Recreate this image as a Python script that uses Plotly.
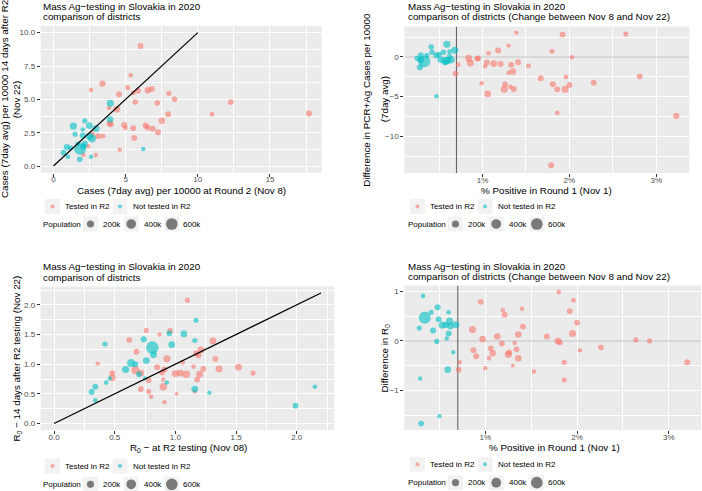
import numpy as np
import plotly.graph_objects as go

W, H = 702, 491
RED = "#F8766D"
CYAN = "#00BFC4"
FONT = "Liberation Sans"
THRESHOLD = 0.7  # % positive threshold line (panels 2 and 4)

# ---------------- Panel 1: cases Nov 8 vs Nov 22 ----------------
p1_t_x = [6.04, 5.35, 3.39, 2.60, 5.14, 4.54, 5.53, 5.85, 6.54, 6.82, 8.00, 8.39, 5.67, 7.19, 4.38, 3.85,
          3.96, 4.91, 4.98, 5.53, 5.60, 6.38, 6.52, 6.87, 7.24, 7.51, 7.95, 10.99, 12.28, 17.70, 4.59, 2.93,
          2.07, 2.67, 2.40, 3.09, 3.43, 3.90]
p1_t_y = [9.00, 6.81, 6.18, 5.70, 5.88, 5.38, 5.48, 5.65, 5.68, 5.78, 5.45, 5.00, 4.80, 4.72, 4.25, 4.35,
          3.14, 3.07, 2.86, 2.84, 2.11, 3.04, 2.89, 2.79, 2.54, 3.39, 3.89, 3.89, 4.80, 3.94, 1.23, 0.83,
          0.85, 2.39, 1.48, 2.24, 2.24, 3.20]
p1_t_pop = [120, 70, 150, 70, 90, 130, 70, 120, 150, 120, 90, 110, 110, 110, 180, 70,
            130, 130, 70, 120, 120, 120, 120, 130, 130, 160, 120, 70, 120, 130, 60, 60,
            60, 120, 70, 120, 80, 140]
p1_n_x = [3.94, 3.92, 2.17, 1.38, 2.49, 2.95, 1.50, 2.03, 2.03, 2.49, 2.67, 2.17, 1.68, 2.05, 1.84, 0.92,
          1.18, 0.69, 0.99, 1.82, 2.60, 6.22]
p1_n_y = [4.70, 3.49, 3.39, 2.99, 3.04, 2.81, 2.39, 2.74, 2.29, 2.24, 2.06, 1.68, 1.66, 1.46, 1.30, 1.43,
          1.36, 1.00, 0.70, 0.50, 0.70, 1.28]
p1_n_pop = [200, 160, 90, 200, 170, 190, 90, 70, 130, 220, 250, 140, 80, 140, 650, 140,
            90, 120, 70, 110, 60, 60]
p1_line = [0, 10]
p1_xticks = [0, 5, 10, 15]
p1_yticks = [0, 2.5, 5, 7.5, 10]

# ---------------- Panel 2: % positive vs difference in cases ----------------
p2_t_x = [1.39, 1.92, 2.65, 1.18, 1.30, 1.07, 1.80, 2.03, 0.84, 0.86, 0.94, 0.95, 1.03, 1.05, 1.13, 1.21,
          1.33, 1.41, 1.35, 1.30, 1.53, 0.72, 0.69, 0.99, 1.06, 1.25, 1.26, 1.32, 1.36, 1.67, 1.81, 1.86,
          1.96, 1.95, 2.00, 2.28, 2.81, 1.86, 3.23, 1.79]
p2_t_y = [3.07, 2.82, 2.90, 0.80, 1.43, 0.46, 0.71, -0.04, -0.17, -0.76, -0.21, -0.17, -1.18, -0.71, -0.84, -0.88,
          -1.00, -0.67, -1.85, -2.00, -1.13, -0.97, -2.10, -3.32, -4.66, -4.08, -3.45, -3.78, -4.03, -2.69, -3.45, -4.08,
          -2.52, -4.08, -3.53, -3.24, -2.44, -7.06, -7.44, -13.66]
p2_t_pop = [60, 120, 90, 130, 60, 70, 90, 60, 180, 180, 120, 120, 60, 130, 180, 120,
            130, 120, 160, 60, 80, 70, 120, 60, 170, 200, 120, 70, 130, 130, 130, 120,
            70, 200, 120, 120, 120, 70, 140, 130]
p2_n_x = [0.59, 0.41, 0.33, 0.25, 0.29, 0.28, 0.42, 0.47, 0.52, 0.55, 0.57, 0.62, 0.60, 0.68, 0.47, 0.29,
          0.64, 0.57, 0.62, 0.36, 0.50]
p2_n_y = [1.60, 1.26, -0.55, -0.17, 0.25, -1.30, 0.59, 0.17, -0.34, 0.59, -0.76, 0.67, -0.46, 0.84, -4.96, -0.40,
          -0.35, -0.50, 0.10, 0.20, 0.30]
p2_n_pop = [200, 110, 650, 110, 110, 140, 110, 130, 160, 110, 70, 70, 220, 200, 70, 180,
            200, 250, 90, 90, 110]
pct_ticks = [1, 2, 3]
pct_labels = ["1%", "2%", "3%"]
p2_yticks = [-10, -5, 0]

# ---------------- Panel 3: R0 Nov 08 vs Nov 22 ----------------
p3_t_x = [1.10, 0.76, 0.956, 0.87, 0.62, 1.31, 0.68, 1.21, 1.17, 1.19, 0.93, 1.33, 1.06, 0.36, 1.15, 0.85,
          0.67, 0.715, 0.91, 0.48, 0.48, 1.20, 1.23, 1.36, 1.52, 1.64, 1.00, 1.04, 1.09, 0.89, 0.78, 1.18,
          0.90, 0.715, 0.78, 0.90, 0.80, 0.91, 1.01, 1.16]
p3_t_y = [2.08, 1.57, 1.56, 1.50, 1.41, 1.39, 1.21, 1.24, 1.18, 1.15, 1.09, 1.09, 1.03, 1.01, 0.96, 0.95,
          0.90, 0.85, 0.91, 0.85, 0.77, 0.83, 0.92, 0.92, 0.95, 0.85, 0.84, 0.85, 0.83, 0.86, 0.73, 0.74,
          0.74, 0.58, 0.54, 0.62, 0.45, 0.36, 0.50, 0.54]
p3_t_pop = [90, 90, 120, 60, 120, 180, 120, 180, 120, 130, 200, 120, 70, 60, 70, 120,
            260, 180, 130, 120, 180, 180, 120, 180, 180, 90, 180, 180, 220, 120, 120, 120,
            60, 120, 90, 220, 60, 60, 40, 60]
p3_n_x = [1.17, 0.42, 0.74, 0.81, 0.82, 1.07, 0.95, 0.97, 1.16, 0.635, 0.67, 0.59, 0.76, 0.70, 0.46, 0.43,
          0.34, 0.31, 0.34, 0.75, 0.93, 1.16, 1.28, 1.99, 2.15]
p3_n_y = [1.74, 1.34, 1.42, 1.28, 1.16, 1.51, 1.52, 1.33, 1.40, 1.02, 1.00, 0.91, 1.06, 0.83, 0.76, 0.69,
          0.62, 0.53, 0.39, 0.76, 0.69, 0.58, 0.52, 0.30, 0.62]
p3_n_pop = [90, 90, 140, 700, 180, 180, 120, 180, 90, 260, 130, 200, 180, 120, 60, 70,
            120, 130, 70, 60, 60, 180, 60, 120, 70]
p3_line = [0, 2.2]
r0_ticks = [0, 0.5, 1, 1.5, 2]

# ---------------- Panel 4: % positive vs difference in R0 ----------------
p4_t_x = [1.80, 1.96, 0.95, 1.19, 1.21, 1.40, 1.92, 2.00, 1.41, 0.86, 0.97, 1.13, 1.18, 1.36, 1.67, 1.79,
          1.81, 1.95, 2.64, 2.79, 3.20, 2.26, 2.03, 1.32, 0.87, 0.90, 0.72, 1.04, 1.06, 1.08, 1.25, 1.26,
          1.34, 1.36, 1.30, 1.00, 0.71, 1.53, 1.86, 1.86]
p4_t_y = [0.99, 0.82, 0.79, 0.62, 0.53, 0.65, 0.60, 0.37, 0.29, 0.23, 0.04, 0.09, -0.05, 0.13, 0.09, 0.00,
          -0.03, 0.15, 0.02, 0.00, -0.43, -0.13, -0.19, -0.04, -0.19, -0.31, -0.43, -0.35, -0.15, -0.25, -0.27, -0.23,
          -0.17, -0.35, -0.50, -0.55, -0.58, -0.62, -0.43, -0.79]
p4_t_pop = [70, 70, 120, 60, 120, 60, 120, 120, 120, 200, 160, 160, 120, 160, 120, 160,
            120, 200, 90, 90, 130, 120, 60, 60, 130, 130, 60, 60, 120, 160, 200, 120,
            120, 160, 40, 60, 120, 70, 90, 90]
p4_n_x = [0.32, 0.48, 0.41, 0.34, 0.49, 0.60, 0.61, 0.53, 0.57, 0.62, 0.68, 0.28, 0.43, 0.60, 0.58, 0.47,
          0.65, 0.59, 0.29, 0.50, 0.30]
p4_n_y = [0.91, 0.68, 0.58, 0.47, 0.44, 0.58, 0.40, 0.32, 0.32, 0.30, 0.33, 0.26, 0.21, 0.15, 0.05, -0.01,
          -0.23, -0.58, -0.76, -1.52, -1.67]
p4_n_pop = [70, 130, 90, 650, 120, 70, 200, 200, 130, 180, 180, 90, 130, 130, 60, 90,
            60, 160, 60, 60, 120]
p4_yticks = [-1, 0, 1]

legend_groups = ["Tested in R2", "Not tested in R2"]
size_breaks = [200, 400, 600]
size_labels = ["200k", "400k", "600k"]

TITLE1 = "Mass Ag\u2212testing in Slovakia in 2020"


def dia(pop_k):
    return 1.0 + 0.0138 * np.sqrt(np.asarray(pop_k, dtype=float) * 1000)


def px(x):
    return x / W


def py(y):
    return 1 - y / H


fig = go.Figure()


def add_points(xs, ys, pops, color, xa, ya):
    fig.add_trace(go.Scatter(x=xs, y=ys, mode="markers", xaxis=xa, yaxis=ya,
                             marker=dict(size=dia(pops), color=color, opacity=0.6, line=dict(width=0)),
                             showlegend=False, hoverinfo="skip"))


X2RANGE = [0.10, 3.38]
Y2RANGE = [-14.64, 3.84]
X4RANGE = [0.117, 3.35]
Y4RANGE = [-1.80, 1.12]

# reference lines (panels 2 and 4) as traces, drawn under points
for xa, ya, xr, yr in (("x2", "y2", X2RANGE, Y2RANGE), ("x4", "y4", X4RANGE, Y4RANGE)):
    fig.add_trace(go.Scatter(x=xr, y=[0, 0], mode="lines", xaxis=xa, yaxis=ya,
                             line=dict(color="#BDBDBD", width=1), showlegend=False, hoverinfo="skip"))
    fig.add_trace(go.Scatter(x=[THRESHOLD, THRESHOLD], y=yr, mode="lines", xaxis=xa, yaxis=ya,
                             line=dict(color="#595959", width=1), showlegend=False, hoverinfo="skip"))

add_points(p1_t_x, p1_t_y, p1_t_pop, RED, "x", "y")
add_points(p1_n_x, p1_n_y, p1_n_pop, CYAN, "x", "y")
fig.add_trace(go.Scatter(x=p1_line, y=p1_line, mode="lines", xaxis="x", yaxis="y",
                         line=dict(color="black", width=1.2), showlegend=False, hoverinfo="skip"))
add_points(p2_t_x, p2_t_y, p2_t_pop, RED, "x2", "y2")
add_points(p2_n_x, p2_n_y, p2_n_pop, CYAN, "x2", "y2")
add_points(p3_t_x, p3_t_y, p3_t_pop, RED, "x3", "y3")
add_points(p3_n_x, p3_n_y, p3_n_pop, CYAN, "x3", "y3")
fig.add_trace(go.Scatter(x=p3_line, y=p3_line, mode="lines", xaxis="x3", yaxis="y3",
                         line=dict(color="black", width=1.2), showlegend=False, hoverinfo="skip"))
add_points(p4_t_x, p4_t_y, p4_t_pop, RED, "x4", "y4")
add_points(p4_n_x, p4_n_y, p4_n_pop, CYAN, "x4", "y4")


def axis(dom, rng, anchor, tickvals, minor_vals, fmt=None, ticktext=None, is_x=True):
    d = dict(domain=dom, range=rng, anchor=anchor, tickmode="array", tickvals=tickvals,
             showgrid=True, gridcolor="white", gridwidth=1.1, zeroline=False, showline=False,
             ticks="outside", ticklen=3, tickwidth=1, tickcolor="#333333",
             tickfont=dict(family=FONT, size=8, color="#4D4D4D"),
             minor=dict(tickmode="array", tickvals=minor_vals, showgrid=True,
                        gridcolor="white", gridwidth=0.5),
             fixedrange=True)
    if is_x:
        d["ticklabelstandoff"] = -4
    if fmt:
        d["tickformat"] = fmt
    if ticktext:
        d["ticktext"] = ticktext
    return d


# plot areas (pixels)
P1 = (40.7, 321.7, 26.0, 172.7)
P2 = (404.3, 689.3, 26.5, 173.0)
P3 = (40.7, 334.3, 286.5, 430.0)
P4 = (404.3, 701.0, 285.5, 430.0)


def xdom(p):
    return [px(p[0]), px(p[1])]


def ydom(p):
    return [py(p[3]), py(p[2])]


r0_minor = [0.25, 0.75, 1.25, 1.75, 2.25]
fig.update_layout(
    xaxis=axis(xdom(P1), [-0.885, 18.585], "y", p1_xticks, [2.5, 7.5, 12.5, 17.5]),
    yaxis=axis(ydom(P1), [-0.5, 10.5], "x", p1_yticks, [1.25, 3.75, 6.25, 8.75], fmt=".1f", is_x=False),
    xaxis2=axis(xdom(P2), X2RANGE, "y2", pct_ticks, [0.5, 1.5, 2.5], ticktext=pct_labels),
    yaxis2=axis(ydom(P2), Y2RANGE, "x2", p2_yticks, [-12.5, -7.5, -2.5, 2.5], is_x=False),
    xaxis3=axis(xdom(P3), [-0.11, 2.31], "y3", r0_ticks, r0_minor, fmt=".1f"),
    yaxis3=axis(ydom(P3), [-0.11, 2.31], "x3", r0_ticks, r0_minor, fmt=".1f", is_x=False),
    xaxis4=axis(xdom(P4), X4RANGE, "y4", pct_ticks, [0.5, 1.5, 2.5], ticktext=pct_labels),
    yaxis4=axis(ydom(P4), Y4RANGE, "x4", p4_yticks, [-1.5, -0.5, 0.5], is_x=False),
)

shapes = []
annotations = []


def ann(text, x, y, size=10, xanchor="left", angle=0, color="black"):
    annotations.append(dict(text=text, x=px(x), y=py(y), xref="paper", yref="paper",
                            xanchor=xanchor, yanchor="middle", showarrow=False, textangle=angle,
                            font=dict(family=FONT, size=size, color=color)))


def box(cx, cy, s=15):
    shapes.append(dict(type="rect", xref="paper", yref="paper",
                       x0=px(cx - s / 2), x1=px(cx + s / 2), y0=py(cy + s / 2), y1=py(cy - s / 2),
                       fillcolor="#F2F2F2", line=dict(width=0)))


def circ(cx, cy, d, color, opacity=1.0):
    r = d / 2
    shapes.append(dict(type="circle", xref="paper", yref="paper",
                       x0=px(cx - r), x1=px(cx + r), y0=py(cy + r), y1=py(cy - r),
                       fillcolor=color, opacity=opacity, line=dict(width=0)))


def legend(dx, y1, y2):
    # colour legend
    for cx, col, tx, lab in ((52.5, RED, 62.7, legend_groups[0]), (120.0, CYAN, 131.0, legend_groups[1])):
        box(cx + dx, y1)
        circ(cx + dx, y1, 4, col, 0.6)
        ann(lab, tx + dx, y1, size=8)
    ann("Population", 41 + dx, y2, size=8)
    for cx, tx, b, lab in zip((90.5, 131.2, 171.8), (101.3, 141.8, 180.7), size_breaks, size_labels):
        box(cx + dx, y2)
        circ(cx + dx, y2, float(dia(b)), "#7A7A7A")
        ann(lab, tx + dx, y2, size=8)


TS = 9.8  # title / axis-title font size

# Panel 1 texts
ann(TITLE1, 41, 6.3, size=TS)
ann("comparison of districts", 41, 16.5, size=TS)
ann("Cases (7day avg) per 10000 at Round 2 (Nov 8)", (P1[0] + P1[1]) / 2, 190.5, size=TS, xanchor="center")
ann("Cases (7day avg) per 10000 14 days after R2", 4.7, (P1[2] + P1[3]) / 2, size=TS, xanchor="center", angle=-90)
ann("(Nov 22)", 16.0, (P1[2] + P1[3]) / 2, size=TS, xanchor="center", angle=-90)
legend(0, 206.5, 224.0)

# Panel 2 texts
ann(TITLE1, 406, 6.5, size=TS)
ann("comparison of districts (Change between Nov 8 and Nov 22)", 406, 16.7, size=TS)
ann("% Positive in Round 1 (Nov 1)", (P2[0] + P2[1]) / 2, 190.2, size=TS, xanchor="center")
ann("Difference in PCR+Ag Cases per 10000", 367, (P2[2] + P2[3]) / 2, size=TS, xanchor="center", angle=-90)
ann("(7day avg)", 384.5, (P2[2] + P2[3]) / 2, size=TS, xanchor="center", angle=-90)
legend(365, 206.5, 224.0)

# Panel 3 texts
ann(TITLE1, 41, 266.7, size=TS)
ann("comparison of districts", 41, 277.3, size=TS)
ann("R<sub>0</sub> \u2212 at R2 testing (Nov 08)", 188.5, 448.0, size=TS, xanchor="center")
ann("R<sub>0</sub> \u2212 14 days after R2 testing (Nov 22)", 17.2, 358.3, size=TS, xanchor="center", angle=-90)
legend(0, 466.0, 484.3)

# Panel 4 texts
ann(TITLE1, 406, 266.2, size=TS)
ann("comparison of districts (Change between Nov 8 and Nov 22)", 406, 276.5, size=TS)
ann("% Positive in Round 1 (Nov 1)", 554, 447.3, size=TS, xanchor="center")
ann("Difference in R<sub>0</sub>", 384.8, 357.7, size=TS, xanchor="center", angle=-90)
legend(365, 464.3, 482.7)

fig.update_layout(
    width=W, height=H, margin=dict(l=0, r=0, t=0, b=0),
    paper_bgcolor="white", plot_bgcolor="#EBEBEB",
    font=dict(family=FONT, size=10, color="black"),
    showlegend=False, shapes=shapes, annotations=annotations,
)

fig.write_html("out.html", config={"displayModeBar": False},
               post_script="document.body.style.margin='0';document.body.style.overflow='hidden';")
